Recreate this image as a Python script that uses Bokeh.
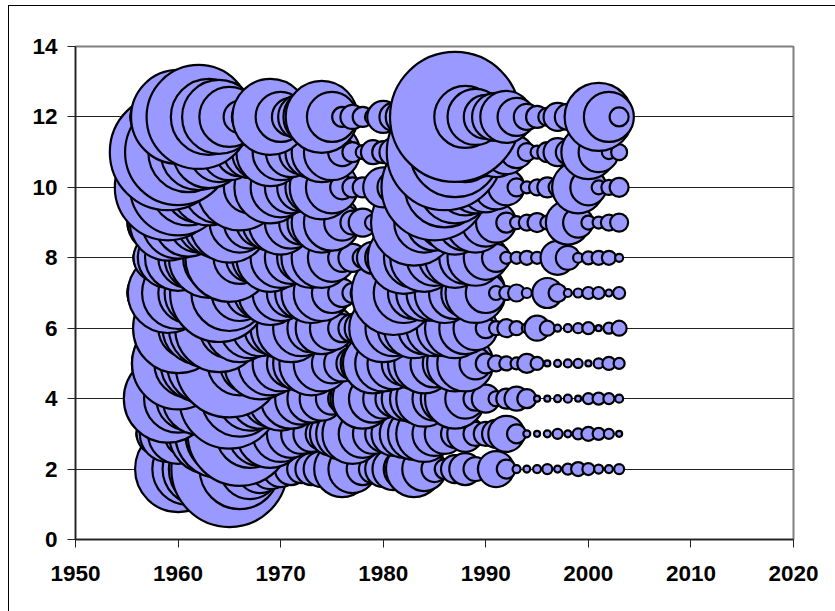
from bokeh.plotting import figure
from bokeh.models import ColumnDataSource, FixedTicker
from bokeh.embed import file_html
from bokeh.resources import INLINE

years = list(range(1957, 2004))
x_ticks = [1950, 1960, 1970, 1980, 1990, 2000, 2010, 2020]
y_ticks = [0, 2, 4, 6, 8, 10, 12, 14]

row_2 = [11,20,31,43,36,36,40,40,58,40,30,24,20,18,16,14,16,18,16,28,24,16,14,18,21,20,28,22,13,10,14,16,12,8,18,9.5,4,3.5,4,5,3.5,5.5,7,6,4.5,4,5]
row_3 = [11,21,28,30,24,28,40,44,44,52,34,32,34,28,24,20,18,16,22,26,30,24,20,18,22,24,26,28,22,20,14,18,12,12,14,18,9.5,3.5,3,3.5,5,3.5,5.5,7,6,5,3]
row_4 = [20,30,44,34,32,36,30,38,50,38,32,30,28,32,30,26,24,22,16,14,22,30,24,20,18,22,24,28,22,24,30,20,12,14,7.5,10,12,9.5,3,3,3.5,4,3,5.5,6,5.5,4]
row_5 = [15,25,36,46,34,38,42,40,54,32,30,36,32,28,24,28,32,28,20,18,16,22,30,28,26,22,26,30,24,22,28,28,16,10,8,7,6,9.5,6.5,3,3.5,4,4.5,3,5,6.5,5.5]
row_6 = [12,22,32,45,30,36,40,44,30,34,30,28,26,30,34,28,24,26,22,14,14,18,22,34,28,26,30,26,28,28,30,26,22,10,7,9,7,5,12.5,7.5,3.5,4,5,6,3,5.5,7.5]
row_7 = [20,30,40,36,30,34,38,49,38,28,24,26,32,28,24,26,30,28,20,14,10,12,16,24,42,30,26,28,28,30,26,24,30,20,7,7,8.5,5,4,15,9,4,4.5,6,6,3.5,6]
row_8 = [14,24,30,33,30,34,40,36,44,26,24,28,34,30,26,24,30,30,24,14,14,10,16,18,20,36,30,34,28,26,30,26,28,22,14,6,6,7,6,5,17,12,5,6.5,7,7,4]
row_9 = [20,30,38,36,34,30,32,36,40,30,26,24,28,32,26,22,24,30,28,18,12,14,8,10,14,24,43,30,28,26,32,28,30,24,20,10,6.5,8,9.5,7,5,22,15,7,6,8,9]
row_10 = [28,38,53,48,38,35,38,36,32,43,26,24,36,30,26,24,26,32,26,12,10,10,8,20,16,20,24,32,53,40,36,28,26,25,22,18,9,6,8,10,9,10,26,18,7,7.5,9.5]
row_11 = [30,42,58,53,40,38,36,30,28,24,26,28,34,28,25,22,26,30,28,14,10,7,12,11,14,16,20,26,40,58,45,30,26,24,25,22,16,9,6.5,10,14,12,8,27,20,7,8]
row_12 = [17,27,37,47,30,52,38,37,30,16,18,25,38,25,19,23,28,36,25,10,12,10,8,16,14,18,20,22,25,30,65,31,28,22,24,26,19,13,11,9,14,13,12,14,34,25,9.5]

rows = {2: row_2, 3: row_3, 4: row_4, 5: row_5, 6: row_6, 7: row_7,
        8: row_8, 9: row_9, 10: row_10, 11: row_11, 12: row_12}

xs, ys, sizes = [], [], []
for level, vals in rows.items():
    for yr, v in zip(years, vals):
        xs.append(yr)
        ys.append(level)
        sizes.append(v * 2)
src = ColumnDataSource(dict(x=xs, y=ys, s=sizes))

p = figure(width=827, height=606, frame_width=718, frame_height=493,
           x_range=(1950, 2020), y_range=(0, 14),
           output_backend="svg", toolbar_location=None,
           min_border_left=67, min_border_top=41, min_border_right=42, min_border_bottom=72)
p.styles = {"margin-left": "8px", "margin-top": "5px", "box-shadow": "inset 1px 1px 0 #000"}
p.border_fill_alpha = 0
p.background_fill_color = None
p.outline_line_color = "#808080"
p.outline_line_width = 2

p.xgrid.visible = False
p.ygrid.ticker = FixedTicker(ticks=y_ticks)
p.ygrid.grid_line_color = "#222222"
p.ygrid.grid_line_width = 1

p.scatter("x", "y", size="s", source=src, marker="circle",
          fill_color="#9999ff", fill_alpha=1, line_color="#000000", line_width=2.2)

p.xaxis.ticker = FixedTicker(ticks=x_ticks)
p.yaxis.ticker = FixedTicker(ticks=y_ticks)
for ax in (p.xaxis[0], p.yaxis[0]):
    ax.axis_line_color = "#222222"
    ax.axis_line_width = 1.5
    ax.major_tick_line_color = "#222222"
    ax.major_tick_line_width = 1
    ax.major_tick_in = 0
    ax.major_tick_out = 8
    ax.minor_tick_line_color = None
    ax.major_label_text_font = "Liberation Sans"
    ax.major_label_text_font_style = "bold"
    ax.major_label_text_font_size = "22.5px"
    ax.major_label_text_color = "#000000"
p.xaxis.major_label_standoff = 18
p.yaxis.major_label_standoff = 10

open("out.html", "w").write(file_html(p, INLINE))
